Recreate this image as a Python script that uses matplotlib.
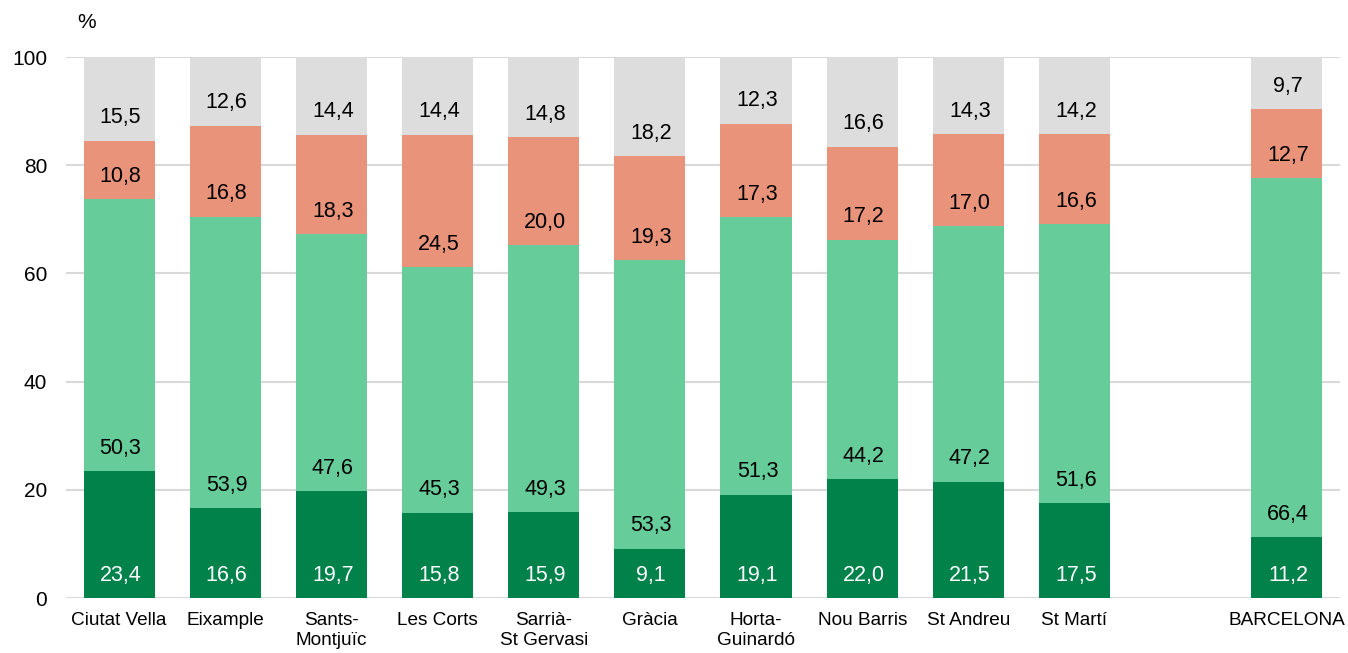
import matplotlib.pyplot as plt
import numpy as np

plt.rcParams['font.family'] = ['Liberation Sans', 'DejaVu Sans']

districts = ['Ciutat Vella', 'Eixample', 'Sants-\nMontjuïc', 'Les Corts', 'Sarrià-\nSt Gervasi',
             'Gràcia', 'Horta-\nGuinardó', 'Nou Barris', 'St Andreu', 'St Martí', 'BARCELONA']
positions = [0, 1, 2, 3, 4, 5, 6, 7, 8, 9, 11]

dark_green = [23.4, 16.6, 19.7, 15.8, 15.9, 9.1, 19.1, 22.0, 21.5, 17.5, 11.2]
light_green = [50.3, 53.9, 47.6, 45.3, 49.3, 53.3, 51.3, 44.2, 47.2, 51.6, 66.4]
salmon = [10.8, 16.8, 18.3, 24.5, 20.0, 19.3, 17.3, 17.2, 17.0, 16.6, 12.7]
grey = [15.5, 12.6, 14.4, 14.4, 14.8, 18.2, 12.3, 16.6, 14.3, 14.2, 9.7]

series = [dark_green, light_green, salmon, grey]
colors = ['#00824A', '#66CC99', '#E8937A', '#DDDDDD']
text_colors = ['white', 'black', 'black', 'black']

fig = plt.figure(figsize=(13.48, 6.53), dpi=100)
ax = fig.add_axes([0.049, 0.0842, 0.945, 0.8285])

bottom = np.zeros(len(positions))
for vals, col, tcol in zip(series, colors, text_colors):
    ax.bar(positions, vals, bottom=bottom, width=0.67, color=col, zorder=3)
    for x, b, v in zip(positions, bottom, vals):
        ax.annotate(f'{v:.1f}'.replace('.', ','), (x, b), xytext=(1, 16.5),
                    textcoords='offset points', ha='center', va='center',
                    fontsize=15.5, color=tcol, zorder=4)
    bottom += np.array(vals)

ax.set_xlim(-0.5, 11.5)
ax.set_ylim(0, 100)
ax.set_yticks(range(0, 101, 20))
ax.set_xticks(positions)
ax.set_xticklabels(districts, fontsize=13.7)
ax.tick_params(axis='y', labelsize=15, length=0, pad=13.5)
ax.tick_params(axis='x', length=0, pad=10)
ax.grid(axis='y', color='#D9D9D9', linewidth=1.5, zorder=0)
for s in ax.spines.values():
    s.set_visible(False)

fig.text(0.064, 0.966, '%', fontsize=15, ha='center', va='center')

fig.savefig('out.png', dpi=100)
